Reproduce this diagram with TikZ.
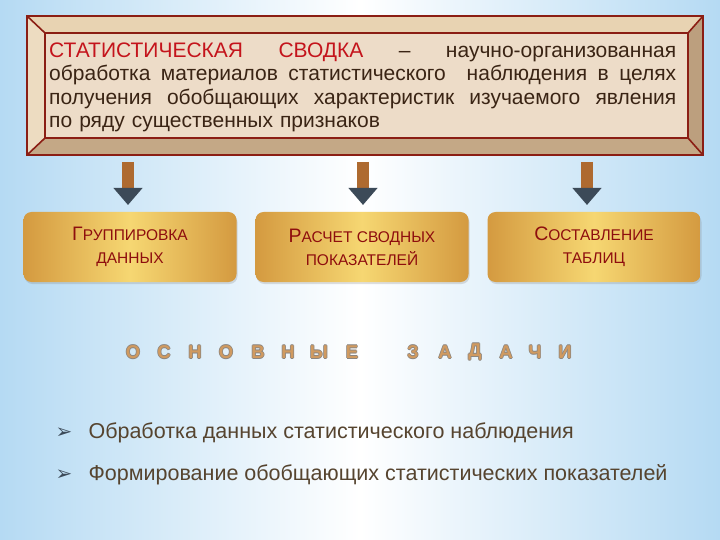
\documentclass[tikz,border=0pt]{standalone}
\usepackage{fontspec}
\setmainfont{Liberation Sans}
\newfontfamily\dejavu{DejaVu Sans}
\usetikzlibrary{arrows.meta, shadows, calc}
\definecolor{bgblue}{HTML}{B5DAF3}
\definecolor{bevlight}{HTML}{E8D3B2}
\definecolor{bevdark}{HTML}{BC9F7E}
\definecolor{bevbottom}{HTML}{C4A886}
\definecolor{parch}{HTML}{EDDCC8}
\definecolor{framered}{HTML}{8B1E14}
\definecolor{defred}{HTML}{C4141C}
\definecolor{deftext}{HTML}{3A2414}
\definecolor{goldmid}{HTML}{F6D772}
\definecolor{goldedge}{HTML}{D49A40}
\definecolor{capred}{HTML}{8E0E0E}
\definecolor{shaft}{HTML}{AE6A30}
\definecolor{slate}{HTML}{3C4A58}
\definecolor{tasktan}{HTML}{D09A60}
\definecolor{taskline}{HTML}{8C8680}
\definecolor{bullettext}{HTML}{56442F}
\newcommand{\capword}[2]{{\fontsize{19.5}{23}\selectfont #1}{\fontsize{15.5}{23}\selectfont #2}}
\newcommand{\fullline}[1]{\leavevmode\hbox to 627pt{#1}}

\begin{document}
\begin{tikzpicture}[x=1pt, y=-1pt,
	gold/.style={rounded corners=8pt, left color=goldedge, right color=goldedge, middle color=goldmid,
		minimum width=213pt, minimum height=70pt, align=center, text=capred,
		font=\fontsize{15.5}{23}\selectfont,
		drop shadow={opacity=.25, shadow xshift=1pt, shadow yshift=-2pt}},
	down/.style={line width=12pt, draw=shaft, -{Triangle[width=28pt, length=17pt, color=slate]}},
	letter/.style={text=tasktan, font=\fontsize{18.5}{22}\selectfont\bfseries},
	task/.style={anchor=west, text=bullettext, font=\fontsize{21.5}{24}\selectfont}]
	\useasboundingbox (0,0) rectangle (720,540);
	\shade[left color=bgblue, right color=bgblue, middle color=white] (0,0) rectangle (720,540);
	% frame
	\coordinate (O1) at (27,16);
	\coordinate (O2) at (703,16);
	\coordinate (O3) at (703,155);
	\coordinate (O4) at (27,155);
	\coordinate (I1) at (45,33);
	\coordinate (I2) at (688,33);
	\coordinate (I3) at (688,138);
	\coordinate (I4) at (45,138);
	\fill[bevlight] (O1) -- (O2) -- (I2) -- (I1) -- cycle;
	\fill[bevlight!80!white] (O1) -- (I1) -- (I4) -- (O4) -- cycle;
	\fill[bevdark] (O2) -- (O3) -- (I3) -- (I2) -- cycle;
	\fill[bevbottom] (O4) -- (I4) -- (I3) -- (O3) -- cycle;
	\fill[parch] (I1) rectangle (I3);
	\draw[framered, line width=1.6pt] (O1) -- (O2) -- (O3) -- (O4) -- cycle;
	\draw[framered, line width=1.6pt] (I1) -- (I2) -- (I3) -- (I4) -- cycle;
	\draw[framered, line width=1.6pt] (O1) -- (I1) (O2) -- (I2) (O3) -- (I3) (O4) -- (I4);
	\node[anchor=north west, inner sep=0pt, text width=627pt, align=left, text=deftext,
		font=\fontsize{21}{23.5}\selectfont] (def) at (49,42.5)
		{\fullline{\textcolor{defred}{СТАТИСТИЧЕСКАЯ\hfill СВОДКА}\hfill –\hfill научно-организованная}\\
		\fullline{обработка\hfill материалов\hfill статистического\hfill\hfill наблюдения\hfill в\hfill целях}\\
		\fullline{получения\hfill обобщающих\hfill характеристик\hfill изучаемого\hfill явления}\\
		по ряду существенных признаков};
	% three tasks
	\node[gold] (g1) at (130,247) {\capword{Г}{РУППИРОВКА}\\\capword{}{ДАННЫХ}};
	\node[gold] (g2) at (362,247) {\capword{Р}{АСЧЕТ СВОДНЫХ}\\\capword{}{ПОКАЗАТЕЛЕЙ}};
	\node[gold] (g3) at (594,247) {\capword{С}{ОСТАВЛЕНИЕ}\\\capword{}{ТАБЛИЦ}};
	\coordinate (a1) at (128,162);
	\coordinate (a2) at (363,162);
	\coordinate (a3) at (587,162);
	\draw[down] (a1) -- (a1 |- 0,205);
	\draw[down] (a2) -- (a2 |- 0,205);
	\draw[down] (a3) -- (a3 |- 0,205);
	% heading
	\foreach \ch/\x in {О/133, С/164, Н/195, О/226, В/258, Н/288, Ы/319, Е/352,
		З/413, А/445, Д/475, А/506, Ч/535, И/565}
	{
		\foreach \dx/\dy in {-.7/0, .7/0, 0/-.7, 0/.7}
			\node[letter, text=taskline] at (\x+\dx,352+\dy) {\ch};
		\node[letter] (t\x) at (\x,352) {\ch};
	}
	% list
	\node[task] (p1) at (85,433) {Обработка данных статистического наблюдения};
	\node[task] (p2) at (85,475) {Формирование обобщающих статистических показателей};
	\node[text=slate, font=\dejavu\fontsize{20}{22}\selectfont] (m1) at (64,433) {➢};
	\node[text=slate, font=\dejavu\fontsize{20}{22}\selectfont] (m2) at (64,475) {➢};
\end{tikzpicture}
\end{document}
